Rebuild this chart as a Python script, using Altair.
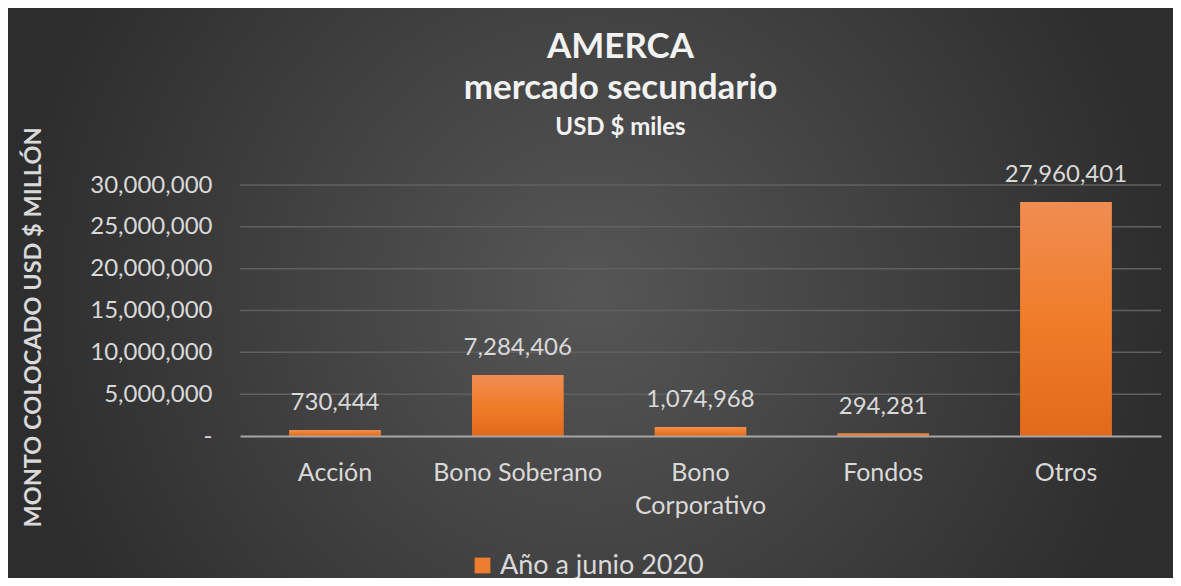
import altair as alt
import pandas as pd

categorias = ["Acción", "Bono Soberano", "Bono Corporativo", "Fondos", "Otros"]
valores = [730444, 7284406, 1074968, 294281, 27960401]
serie = "Año a junio 2020"
ticks_y = [0, 5000000, 10000000, 15000000, 20000000, 25000000, 30000000]

df = pd.DataFrame({"categoria": categorias, "valor": valores, "serie": [serie] * len(categorias)})
grid_df = pd.DataFrame({"t": ticks_y[1:]})
bg_df = pd.DataFrame({"k": [0]})

FONT = "Lato"
LBL = "#d9d9d9"
W, H = 921, 251
PL, PT, PR, PB = 232, 177, 12, 142

x_scale = alt.Scale(domain=categorias, paddingInner=0.5, paddingOuter=0.27)
y_scale = alt.Scale(domain=[0, 30000000], nice=False)

x_axis = alt.Axis(
    title=None, labelAngle=0, labelFontSize=25, labelColor=LBL, labelFont=FONT,
    labelPadding=24, ticks=False, domainColor="#a6a6a6", domainWidth=2,
    labelLineHeight=33, zindex=1, grid=False,
    labelExpr="datum.label == 'Bono Corporativo' ? ['Bono', 'Corporativo'] : datum.label",
)
y_axis = alt.Axis(
    title="MONTO COLOCADO USD $ MILLÓN", titleFontSize=23.5, titleFontWeight="bold",
    titleColor=LBL, titleFont=FONT, titleX=-207, titleY=142, titleAngle=-90,
    titleBaseline="middle", titleAlign="center", zindex=1,
    values=ticks_y, labelExpr="datum.value == 0 ? '-' : format(datum.value, ',')",
    labelFontSize=24, labelColor=LBL, labelFont=FONT, labelPadding=28,
    ticks=False, domain=False, grid=False,
)

X = alt.X("categoria:N", sort=categorias, scale=x_scale, axis=x_axis)
Y = alt.Y("valor:Q", scale=y_scale, axis=y_axis)

background = alt.Chart(bg_df).mark_rect(
    fill={
        "gradient": "radial", "x1": 0.5, "y1": 0.5, "r1": 0,
        "x2": 0.5, "y2": 0.5, "r2": 0.5,
        "stops": [{"offset": 0, "color": "#565656"}, {"offset": 1, "color": "#2d2d2d"}],
    }
).encode(
    x=alt.value(-PL), x2=alt.value(W + PR), y=alt.value(-PT), y2=alt.value(H + PB)
)

grid = alt.Chart(grid_df).mark_rule(color="#606060", strokeWidth=1.5).encode(
    y=alt.Y("t:Q", scale=y_scale, axis=y_axis)
)

bars_legend = alt.Chart(df).mark_bar().encode(
    x=X, y=Y,
    color=alt.Color(
        "serie:N", scale=alt.Scale(range=["#ED7D31"]),
        legend=alt.Legend(
            title=None, orient="none", legendX=229, legendY=367, symbolType="square",
            symbolSize=250, labelFontSize=27, labelColor=LBL, labelFont=FONT,
            symbolStrokeWidth=0, labelOffset=4, symbolOpacity=1, labelLimit=400,
        ),
    ),
)

bars = alt.Chart(df).mark_bar(
    fill={
        "gradient": "linear", "x1": 0, "y1": 0, "x2": 0, "y2": 1,
        "stops": [{"offset": 0, "color": "#f08d52"}, {"offset": 0.5, "color": "#f07d2a"},
                  {"offset": 1, "color": "#e2691b"}],
    }
).encode(x=X, y=Y)

labels = alt.Chart(df).mark_text(
    dy=-20, baseline="alphabetic", fontSize=24, color=LBL, font=FONT
).encode(
    x=X, y=Y,
    text=alt.Text("valor:Q", format=","),
)

chart = alt.layer(background, grid, bars_legend, bars, labels).properties(
    width=W, height=H,
    padding={"left": PL, "top": PT, "right": PR, "bottom": PB},
    autosize=alt.AutoSizeParams(type="none"),
    title=alt.Title(
        text=["AMERCA", "mercado secundario"], subtitle="USD $ miles",
        font=FONT, fontSize=35, fontWeight="bold", color="#f2f2f2", lineHeight=41,
        subtitleFont=FONT, subtitleFontSize=24, subtitleFontWeight="bold",
        subtitleColor="#f2f2f2", subtitlePadding=10,
        anchor="middle", frame="group", dx=-80, offset=-132,
    ),
).configure(background="#3a3a3a").configure_view(stroke=None)

chart.save("out.html", embed_options={"renderer": "svg", "actions": False})
